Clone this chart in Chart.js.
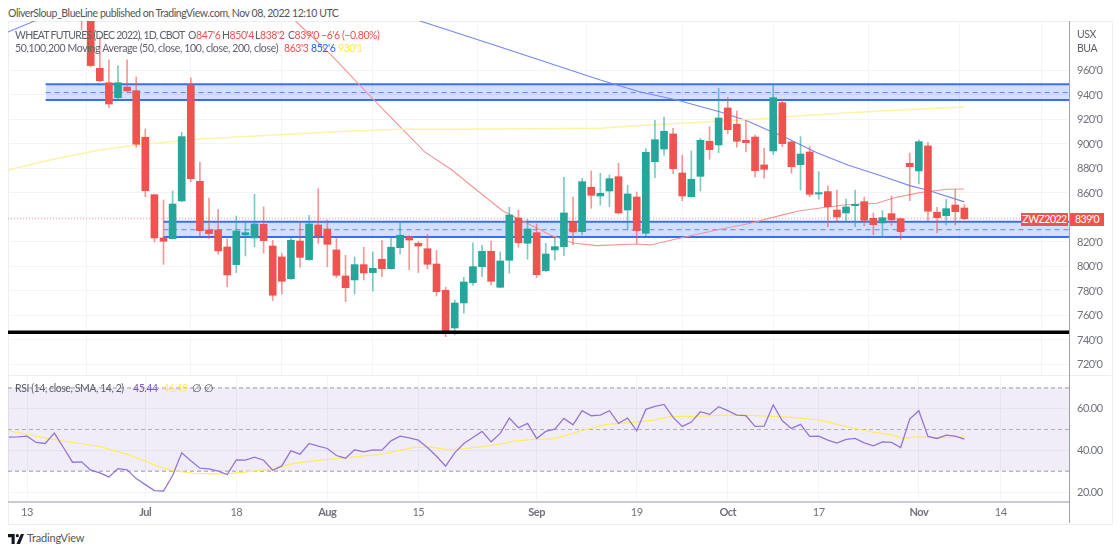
<!DOCTYPE html>
<html>
<head>
<meta charset="utf-8">
<title>WHEAT FUTURES (DEC 2022)</title>
<script src="https://cdn.jsdelivr.net/npm/chart.js@4"></script>
<style>
  html,body{margin:0;padding:0;background:#fff;width:1120px;height:552px;overflow:hidden}
  body{position:relative;font-family:Lato,sans-serif;color:#5d606b;filter:blur(.35px)}
  canvas{position:absolute;left:8px}
  #priceChart{top:21px}
  #rsiChart{top:375px}
  .t{position:absolute;white-space:pre;font-size:10.5px;line-height:14px;letter-spacing:-.43px}
  .frame{position:absolute;left:8px;top:21px;width:1103px;height:502px;border:1px solid #eceef3;box-sizing:content-box}
  .sep{position:absolute;left:8px;top:375px;width:1103px;height:1px;background:#eceef3}
  .axisline{position:absolute;left:1069px;top:21px;width:1px;height:502px;background:#9ea1a9}
  .tag{position:absolute;top:213px;height:13px;line-height:13px;background:#ef5350;color:#fff;font-size:10.5px;letter-spacing:-.5px;text-align:center}
</style>
</head>
<body>
<div class="frame"></div>
<canvas id="priceChart" width="1104" height="354"></canvas>
<canvas id="rsiChart" width="1104" height="148"></canvas>
<div class="sep"></div>
<div class="axisline"></div>

<span class="t" style="left:8px;top:6px;color:#555">OliverSloup_BlueLine published on TradingView.com, Nov 08, 2022 12:10 UTC</span>

<span class="t" style="left:15px;top:28px;letter-spacing:-.72px">WHEAT FUTURES (DEC 2022), 1D, CBOT</span>
<span class="t" style="left:188px;top:28px">O<span style="color:#ef5350">847'6</span></span>
<span class="t" style="left:222px;top:28px">H<span style="color:#ef5350">850'4</span></span>
<span class="t" style="left:255px;top:28px">L<span style="color:#ef5350">838'2</span></span>
<span class="t" style="left:288px;top:28px">C<span style="color:#ef5350">839'0</span></span>
<span class="t" style="left:321px;top:28px;color:#ef5350">−6'6</span>
<span class="t" style="left:342px;top:28px;color:#ef5350">(−0.80%)</span>

<span class="t" style="left:15px;top:41px;letter-spacing:-.33px">50,100,200 Moving Average (50, close, 100, close, 200, close)</span>
<span class="t" style="left:284px;top:41px;color:#ef5350">863'3</span>
<span class="t" style="left:311px;top:41px;color:#2962ff">852'6</span>
<span class="t" style="left:338px;top:41px;color:#ffe94f">930'1</span>

<span class="t" style="left:1077px;top:27px">USX</span>
<span class="t" style="left:1077px;top:41px">BUA</span>

<span class="t" style="left:15px;top:381px">RSI (14, close, SMA, 14, 2)</span>
<span class="t" style="left:133px;top:381px;color:#7e57c2">45.44</span>
<span class="t" style="left:163px;top:381px;color:#ffe94f">46.49</span>
<span class="t" style="left:192px;top:381px">∅</span>
<span class="t" style="left:204px;top:381px">∅</span>

<div class="tag" style="left:1021px;width:47px">ZWZ2022</div>
<div class="tag" style="left:1070px;width:34px">839'0</div>

<svg style="position:absolute;left:8px;top:534px" width="16" height="10" viewBox="0 0 36 22">
  <path fill="#131722" d="M15 0H0v7h8v15h7V0zM29 0h7l-9 22h-8z"/><circle cx="21" cy="3.5" r="3.5" fill="#131722"/>
</svg>
<span class="t" style="left:27px;top:531px;color:#555;font-size:11px;letter-spacing:-.2px">TradingView</span>

<script>
// ====== Data ======
// Trading day index: 0 = Jun 13, 103 = Nov 8. Candles above the pane start at day 6.
const firstCandleDay = 6;
const opens = [
  1030,1020,961.8,950,937.8,946.5,943.5,905.5,858.6,823.3,
  822.7,853.5,948.2,869.55,829.8,829.8,815.9,801.5,825.7,823.3,
  834.45,816.7,807.8,790,820.8,805.6,833.9,830.6,813.5,792.25,
  789,801.5,795,805.9,798.2,815.35,824.3,818.95,814.5,802,
  780.6,749.8,770.2,786.8,799.85,812.4,783,805.05,839.6,818.95,
  827.6,796.6,813.5,816.2,836.3,828.4,864.65,857.55,861.6,873.3,
  846.1,856.7,827.1,885.55,895.9,908.2,876.3,857,873.6,902.2,
  899.2,929.4,916.1,903,905.7,882.9,894.3,933.7,901.6,883.1,
  893.5,859.2,861.1,846.1,843.7,849.6,852.9,839.35,835.5,843.1,
  839,884.25,878,898.4,844.25,841.5,850.2,847.75
];
const highs = [
  1040,1030,987.3,968.6,963.7,968.6,954.7,912.25,859,854.3,
  861.6,909.55,953.9,885,855.9,846.4,822.45,841.2,837.15,858.9,
  848.6,821.4,810.8,823,835.8,841.8,863.5,838,823.3,809.15,
  807.8,815.7,811.85,821.1,823.5,835.8,825,820.6,826.3,813.2,
  783,772.7,791.2,819.2,817.3,820.8,811.85,848.3,846.1,838.5,
  834.7,818.95,823.5,872.8,856.7,872,878,876.1,874.7,884.25,
  866.3,860.8,896.2,919.35,922,912.8,890.8,894.3,904.65,914.1,
  945.5,938.1,926.9,919.6,907.35,896.5,949,936.5,902.7,906,
  897.8,877.4,865.7,862.45,855.1,862.45,856.5,843.7,845.6,857.55,
  839.6,892.65,903.3,901.4,848.3,854.9,863,850.5
];
const lows = [
  993,962.9,950.9,929.6,936.5,943,897.3,857,820,801.8,
  822.5,853,869.2,825.1,823,810,783.5,795,808.6,816.2,
  810.8,772.1,777.55,789.5,799.35,805,818.9,799.85,790.9,771.3,
  777.55,789,780,791.7,797.8,810.2,797.4,795,798,775.9,
  742.7,744.1,761.8,784.7,791.7,784.9,782.8,794.45,815.7,805.9,
  790.9,795.8,805.3,808.8,817.55,825.7,847.5,850,848.8,842.9,
  829.8,818.95,825.1,872.5,890.8,875.8,853.7,856.5,861.6,887.5,
  892.9,908.2,897.3,893.7,873.1,872,891.3,897.8,876.1,862.45,
  857,854.9,832.5,835.8,836.6,832.5,833.3,826,823.8,833.3,
  822.2,853.7,867.35,837.4,827.6,833.9,833.9,838.25
];
const closes = [
  1010,964,951.7,932.65,950,943.3,899.8,861.9,823.3,820.6,
  851,906,871.7,829.2,826.8,812.7,793.1,829,827.6,834.7,
  821.1,776.5,787.9,821.4,807.5,834.7,824.9,818.1,792.8,782.7,
  801.5,794.7,798.5,798.2,815.7,825.5,821.6,816.7,801.8,779.4,
  745.7,770.2,787.35,799.85,812.4,787.9,804.5,842,819.4,830.6,
  793.3,810.2,816.2,843.7,828.2,869.2,858.1,859.75,871.7,843.7,
  859.2,829.2,893.2,903.5,910.4,879.8,857.55,871.2,903,895.35,
  921.2,911.7,902.2,901.1,878.2,879.35,937.8,900.25,881.5,891.8,
  858.9,860.25,848.8,840.4,848.6,850.8,837.7,834.1,839.8,838,
  828.4,881.5,901.9,845.1,839.85,847.2,844.75,839
];

const ma50Days = [27.8,29.6,33.6,37.4,41,43.7,46.7,49.4,52.3,54.9,57.5,60,62.6,67,68.5,71.8,75.8,79.5,82.7,84.9,89.7,93.4,95.2,98.1,101.1,103];
const ma50 = [1013.5,999.8,971.3,941.6,913.9,893.5,878.8,862.4,845.3,835.5,825.7,819.2,817,818.4,817.6,823.3,829.8,835.3,841.5,845.5,850.2,851.6,855.9,860.3,863,863.25];
const ma100Days = [-2.09,0.55,8,19,30,38.8,43.2,52,63,67.4,71.4,76.2,79.1,81.4,83.3,86.8,90.2,94.5,97,98.9,103];
const ma100 = [991.4,999.6,1021,1030,1030,1011,1000.4,979.2,952.2,942.4,935.9,926.1,919,911.4,905.5,892.9,882.9,872.5,866,862.4,852.75];
const ma200Days = [-2.09,2.5,8,12,19,27.8,34.4,41,52,63,67.4,74,80.5,85,90.4,96,103];
const ma200 = [878.8,886.9,895.1,899.2,904.1,907.6,910.2,912,912.3,912.8,915,917.7,920.4,923.1,925.5,927.8,930.2];

const firstRsiDay = -2;
const rsi = [
  46.36,46.52,46.84,43.79,43.31,48.29,41.38,34.31,34.47,30.46,
  29.17,27.25,31.26,30.62,26.44,23.55,20.66,20.5,27.89,38.81,
  34.96,31.42,31.1,29.98,28.37,35.44,35.28,36.72,35.28,30.46,
  32.55,39.77,38.17,43.31,42.02,40.9,37.53,36.24,40.26,39.29,
  40.26,40.1,44.59,46.84,46.04,44.92,41.38,37.2,32.39,38.81,
  43.31,46.2,49.09,44.11,48.13,55.52,50.86,52.95,45.72,49.09,
  50.22,55.36,52.3,59.05,56.64,56.96,59.05,52.95,55.52,49.41,
  59.69,61.14,62.1,55.84,51.5,53.59,58.57,57.28,60.98,59.05,
  56.96,56.64,51.5,51.66,61.78,54.23,50.54,52.47,46.68,46.84,
  44.92,43.47,45.24,45.72,43.63,42.18,44.11,43.79,41.38,55.04,
  59.05,46.68,45.72,47.32,46.84,45.44
];
const rsiSmaDays = [-2.01,0.33,2.53,5.09,8.02,10.95,12.78,14.6,16.08,18.28,20.48,21.94,24.14,27.07,29.27,32.2,35.13,38.8,41,42.47,44.3,46.5,48.3,51.6,53.45,55.65,57.85,61.15,63.7,66.64,68.84,70.67,73.97,76.16,79.1,84.2,87.14,89.34,92.64,94.84,96.3,97.77,99.96,103];
const rsiSma = [49.41,47.49,45.56,43.79,41.86,38.17,35.28,32.06,30.3,29.01,28.69,28.69,29.65,31.1,33.67,35.28,36.56,38.01,40.1,41.38,41.54,40.26,40.9,42.67,44.43,45.24,45.56,49.73,52.47,53.43,54.56,56.16,56.48,56.8,56.96,55.84,54.56,52.14,48.93,47.65,45.72,46.52,46.04,46.52];

const timeTickDays = [0,13,23,33,43,56,67,77,87,98,107];
const timeTickLabels = ['13','Jul','18','Aug','15','Sep','19','Oct','17','Nov','14'];
const monthLabels = ['Jul','Aug','Sep','Oct','Nov'];
const priceTicks = [720,740,760,780,800,820,840,860,880,900,920,940,960];
const rsiTicks = [20,40,60];

const lastPrice = 839;
const supportLevel = 746.3;
const zoneHighDays = [2.05,114.5], zoneHigh = [948.8,942,935.9];
const zoneLowDays = [15,114.5], zoneLow = [836.6,830,824];
const rsiBands = [70,50,30];

// ====== Config ======
const xMin = -2.088, xMax = 114.5;
const priceMin = 711.4, priceMax = 1000.4;
const rsiMin = 15.2, rsiMax = 76.2;
const RED = '#ef5350', GREEN = '#26a69a';
const GRID = '#f2f4f9', TICK = '#6f727c';
const FONT = 'Lato,sans-serif';

// canvas text tracking, the installed fonts run wider than the original one
const tightText = { id:'tightText', beforeDraw: c => { c.ctx.letterSpacing = '-0.5px'; } };

function xy(days, vals){ return days.map((d,i)=>({x:d,y:vals[i]})); }
function hline(days, val){ return days.map(d=>({x:d,y:val})); }
function line(data, color, width, extra){
  return Object.assign({type:'line',data,borderColor:color,borderWidth:width,pointRadius:0,tension:0,fill:false,order:5},extra||{});
}
// fixed axis size, no padding from tick label overhang
function fixSize(size){
  return s => {
    if(s.isHorizontal()) s.height = size; else s.width = size;
    s.paddingTop = s.paddingBottom = s.paddingLeft = s.paddingRight = 0;
  };
}
function timeAxis(height, showLabels){
  return {
    type:'linear', min:xMin, max:xMax, offset:false,
    afterBuildTicks: s => { s.ticks = timeTickDays.map(v=>({value:v})); },
    afterFit: fixSize(height),
    grid:{color:GRID, drawTicks:false},
    border: showLabels ? {color:'#c9cbd1',width:2} : {display:false},
    ticks:{
      display:showLabels, autoSkip:false, maxRotation:0, padding:4, color:TICK,
      font: c => ({family:FONT,size:11,weight: c.tick && monthLabels.includes(timeTickLabels[timeTickDays.indexOf(c.tick.value)]) ? '700':'400'}),
      callback: v => timeTickLabels[timeTickDays.indexOf(v)]
    }
  };
}
function valueAxis(min, max, ticks, fmt){
  return {
    position:'right', min, max,
    afterBuildTicks: s => { s.ticks = ticks.map(v=>({value:v})); },
    afterFit: fixSize(43),
    grid:{color:GRID, drawTicks:false},
    border:{display:false},
    ticks:{padding:8, color:TICK, font:{family:FONT,size:11}, callback:fmt}
  };
}

// ====== Candles ======
const candleDays = opens.map((_,i)=>i+firstCandleDay);
const candleColor = opens.map((o,i)=> closes[i]>=o ? GREEN : RED);
const wickColor = opens.map((o,i)=> closes[i]>=o ? 'rgba(38,166,154,.6)' : 'rgba(239,83,80,.6)');
const wicks = candleDays.map((d,i)=>({x:d,y:[lows[i],highs[i]]}));
const bodies = candleDays.map((d,i)=>({x:d,y:[opens[i],closes[i]]}));

function zoneSets(days, levels){
  const fillColor = 'rgba(41,98,255,.2)', edge = '#3a6ef7';
  return [
    line(hline(days,levels[0]), edge, 2, {fill:'+1', backgroundColor:fillColor, order:8}),
    line(hline(days,levels[2]), edge, 2, {order:8}),
    line(hline(days,levels[1]), '#6d8ff6', 1, {borderDash:[5,4], order:8})
  ];
}

// ====== Charts ======
new Chart(document.getElementById('priceChart'), {
  type:'bar',
  plugins:[tightText],
  data:{datasets:[
    ...zoneSets(zoneHighDays, zoneHigh),
    ...zoneSets(zoneLowDays, zoneLow),
    line(hline([xMin,xMax],lastPrice), 'rgba(239,83,80,.55)', 1, {borderDash:[1,2], order:7}),
    line(xy(ma200Days,ma200), '#fbf3a6', 1.5, {order:6}),
    line(xy(ma100Days,ma100), '#7688f3', 1.1, {order:6}),
    line(xy(ma50Days,ma50), '#f49592', 1.1, {order:6}),
    {type:'bar',data:wicks,backgroundColor:wickColor,barThickness:1,grouped:false,order:4},
    {type:'bar',data:bodies,backgroundColor:candleColor,barThickness:7,grouped:false,order:3},
    line(hline([xMin,xMax],supportLevel), '#000', 3.4, {order:1})
  ]},
  options:{
    responsive:false, animation:false,
    layout:{padding:0},
    plugins:{legend:{display:false},tooltip:{enabled:false}},
    scales:{
      x:timeAxis(0,false),
      y:valueAxis(priceMin, priceMax, priceTicks, v=>`${v}'0`)
    }
  }
});

new Chart(document.getElementById('rsiChart'), {
  type:'line',
  plugins:[tightText],
  data:{datasets:[
    line(hline([xMin,xMax],rsiBands[0]), '#9a9ca5', 1, {borderDash:[4,3], fill:'+1', backgroundColor:'rgba(126,87,194,.11)', order:8}),
    line(hline([xMin,xMax],rsiBands[2]), '#9a9ca5', 1, {borderDash:[4,3], order:8}),
    line(hline([xMin,xMax],rsiBands[1]), '#b4b6bd', 1, {borderDash:[4,3], order:8}),
    line(xy(rsiSmaDays,rsiSma), '#ffec5c', 1.2, {order:6}),
    line(rsi.map((v,i)=>({x:i+firstRsiDay,y:v})), '#9575d4', 1.3, {order:5})
  ]},
  options:{
    responsive:false, animation:false,
    layout:{padding:0},
    plugins:{legend:{display:false},tooltip:{enabled:false}},
    scales:{
      x:timeAxis(21,true),
      y:valueAxis(rsiMin, rsiMax, rsiTicks, v=>v.toFixed(2))
    }
  }
});
</script>
</body>
</html>
